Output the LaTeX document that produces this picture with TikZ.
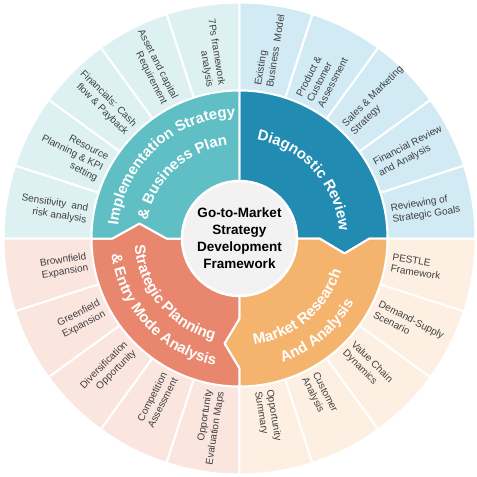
\documentclass[tikz,border=0pt]{standalone}
\usepackage{fontspec}
\setmainfont{Liberation Sans}
\usetikzlibrary{decorations.text}
\definecolor{qteal}{HTML}{5FBFC4}
\definecolor{qblue}{HTML}{218BB1}
\definecolor{qorange}{HTML}{F5B46E}
\definecolor{qsalmon}{HTML}{E8876E}
\definecolor{lteal}{HTML}{DEF1F2}
\definecolor{lblue}{HTML}{D2EAF4}
\definecolor{lpeach}{HTML}{FDF0E2}
\definecolor{lsalmon}{HTML}{FAE5DF}
\definecolor{cgray}{HTML}{F2F2F2}
\definecolor{outgray}{HTML}{3F3F3F}
\newcommand{\qfont}{\fontsize{15}{18}\selectfont\bfseries}
\begin{document}
\begin{tikzpicture}[x=1pt,y=1pt,
  qshape/.style={draw=white, line width=2, line join=round},
  osector/.style={draw=white, line width=2},
  outtxt/.style={font=\fontsize{10}{12}\selectfont, text=outgray, inner sep=1pt},
  rtxt/.style={outtxt, anchor=west, align=left},
  ltxt/.style={outtxt, anchor=east, align=right},
  arctxt/.style={decorate, decoration={text along path, text color=white, text align=center, text={#1}}}
]
\useasboundingbox (-239.5,-238.5) rectangle (237.5,238.5);

% outer ring sectors
\foreach \q/\c in {0/lblue,1/lteal,2/lsalmon,3/lpeach}{
  \foreach \k in {0,...,4}{
    \pgfmathsetmacro\a{\q*90+\k*18}
    \draw[osector, fill=\c] (\a:148) -- (\a:236)
      arc[start angle=\a, delta angle=18, radius=236] -- ({\a+18}:148)
      arc[start angle={\a+18}, delta angle=-18, radius=148] -- cycle;
  }
}

% inner quadrants
\draw[qshape, fill=qblue] (0,57) -- (0,148) arc[start angle=90, end angle=0, radius=148]
  -- (130,0) -- (105,-15) -- (80,0) -- (57,0) arc[start angle=0, end angle=90, radius=57] -- cycle;
\draw[qshape, fill=qorange] (148,0) -- (130,0) -- (105,-15) -- (80,0) -- (57,0)
  arc[start angle=0, end angle=-90, radius=57] -- (0,-80) -- (-15,-105) -- (0,-130) -- (0,-148)
  arc[start angle=-90, end angle=0, radius=148] -- cycle;
\draw[qshape, fill=qsalmon] (0,-148) -- (0,-130) -- (-15,-105) -- (0,-80) -- (0,-57)
  arc[start angle=-90, end angle=-180, radius=57] -- (-73,0) -- (-100,15) -- (-127,0) -- (-148,0)
  arc[start angle=180, end angle=270, radius=148] -- cycle;
\draw[qshape, fill=qteal] (0,57) -- (0,148) arc[start angle=90, end angle=180, radius=148]
  -- (-127,0) -- (-100,15) -- (-73,0) -- (-57,0) arc[start angle=180, end angle=90, radius=57] -- cycle;

% centre
\node[circle, fill=cgray, draw=white, line width=2.5, minimum size=115, inner sep=0pt,
  align=center, font=\fontsize{13.5}{17}\selectfont\bfseries] (centre) at (0,0)
  {Go-to-Market\\Strategy\\Development\\Framework};

% curved quadrant titles
\path[arctxt={|\qfont|Diagnostic Review}] (97:100) arc[start angle=97, end angle=-13, radius=100];
\path[arctxt={|\qfont|Implementation Strategy}] (183:122) arc[start angle=183, end angle=83, radius=122];
\path[arctxt={|\qfont|{\&} Business Plan}] (183:94) arc[start angle=183, end angle=83, radius=94];
\path[arctxt={|\qfont|Market Research}] (-105:107) arc[start angle=-105, end angle=5, radius=107];
\path[arctxt={|\qfont|And Analysis}] (-105:131) arc[start angle=-105, end angle=5, radius=131];
\path[arctxt={|\qfont|Strategic Planning}] (165:105) arc[start angle=165, end angle=275, radius=105];
\path[arctxt={|\qfont|{\&} Entry Mode Analysis}] (168:129) arc[start angle=168, end angle=278, radius=129];

% outer texts - top left
\node[ltxt, rotate=-9]  (t1) at (171:153) {Sensitivity\ \ and\\risk analysis};
\node[ltxt, rotate=-27] (t2) at (153:153) {Resource\\Planning \& KPI\\setting};
\node[ltxt, rotate=-45] (t3) at (135:153) {Financials: Cash\\flow \& Payback};
\node[ltxt, rotate=-63] (t4) at (117:153) {Asset and capital\\Requirement};
\node[ltxt, rotate=-81] (t5) at (99:153)  {7Ps framework\\analysis};
% top right
\node[rtxt, rotate=81] (b1) at (81:153) {Existing\\Business\ \ Model};
\node[rtxt, rotate=63] (b2) at (63:153) {Product \&\\Customer\\Assessment};
\node[rtxt, rotate=45] (b3) at (45:153) {Sales \& Marketing\\Strategy};
\node[rtxt, rotate=27] (b4) at (27:153) {Financial Review\\and Analysis};
\node[rtxt, rotate=9]  (b5) at (9:153)  {Reviewing of\\Strategic Goals};
% bottom right
\node[rtxt, rotate=-9]  (p1) at (-9:153)  {PESTLE\\Framework};
\node[rtxt, rotate=-27] (p2) at (-27:153) {Demand-Supply\\Scenario};
\node[rtxt, rotate=-45] (p3) at (-45:153) {Value Chain\\Dynamics};
\node[rtxt, rotate=-63] (p4) at (-63:153) {Customer\\Analysis};
\node[rtxt, rotate=-81] (p5) at (-81:153) {Opportunity\\Summary};
% bottom left
\node[ltxt, rotate=81] (s1) at (261:153) {Opportunity\\Evaluation Maps};
\node[ltxt, rotate=63] (s2) at (243:153) {Competition\\Assessment};
\node[ltxt, rotate=45] (s3) at (225:153) {Diversification\\Opportunity};
\node[ltxt, rotate=27] (s4) at (207:153) {Greenfield\\Expansion};
\node[ltxt, rotate=9]  (s5) at (189:153) {Brownfield\\Expansion};
\end{tikzpicture}
\end{document}
